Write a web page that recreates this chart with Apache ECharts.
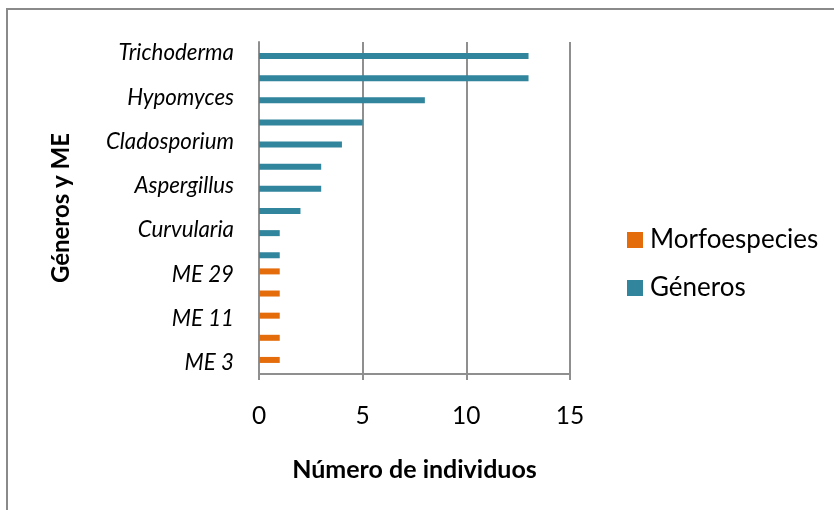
<!DOCTYPE html>
<html>
<head>
<meta charset="utf-8">
<script src="https://cdn.jsdelivr.net/npm/echarts@6/dist/echarts.min.js"></script>
<style>
  html, body { margin: 0; padding: 0; background: #fff; }
  #chart { width: 834px; height: 510px; }
</style>
</head>
<body>
<div id="chart"></div>
<script>
// Categories from bottom to top; only every other label is printed on the axis
const categories = [
  'ME 3', '', 'ME 11', '', 'ME 29', '', 'Curvularia', '', 'Aspergillus', '',
  'Cladosporium', '', 'Hypomyces', '', 'Trichoderma'
];
// Number of individuals per category, one array per series
const morfoespecies = [1, 1, 1, 1, 1, 0, 0, 0, 0, 0, 0, 0, 0, 0, 0];
const generos       = [0, 0, 0, 0, 0, 1, 1, 2, 3, 3, 4, 5, 8, 13, 13];
const seriesNames = ['Morfoespecies', 'Géneros'];
const xTicks = { min: 0, max: 15, interval: 5 };

const FONT = 'Lato';
const GRID_GRAY = '#8f8f8f';

const chart = echarts.init(document.getElementById('chart'), null, { renderer: 'canvas' });

chart.setOption({
  animation: false,
  backgroundColor: '#ffffff',
  textStyle: { fontFamily: FONT, color: '#000' },
  graphic: [{
    type: 'rect',
    shape: { x: 7, y: 9, width: 900, height: 600 },
    style: { fill: 'none', stroke: '#8a8a8a', lineWidth: 2 },
    silent: true,
    z: -1
  }],
  grid: { left: 259, right: 264, top: 42, bottom: 136, containLabel: false },
  legend: {
    orient: 'vertical',
    left: 627,
    top: 227,
    padding: 0,
    itemWidth: 16,
    itemHeight: 16,
    itemGap: 22,
    icon: 'rect',
    data: seriesNames,
    textStyle: { fontFamily: FONT, fontSize: 26, color: '#000', padding: [0, 0, 0, 2] }
  },
  xAxis: {
    type: 'value',
    min: xTicks.min,
    max: xTicks.max,
    interval: xTicks.interval,
    name: 'Número de individuos',
    nameLocation: 'middle',
    nameGap: 83,
    nameTextStyle: { fontFamily: FONT, fontWeight: 'bold', fontSize: 25, color: '#000' },
    axisLine: { show: true, lineStyle: { color: GRID_GRAY, width: 2 } },
    axisTick: { show: true, length: 6, lineStyle: { color: GRID_GRAY, width: 2 } },
    axisLabel: { fontFamily: FONT, fontSize: 24.5, color: '#000', margin: 30 },
    splitLine: { show: true, lineStyle: { color: GRID_GRAY, width: 2 } }
  },
  yAxis: {
    type: 'category',
    data: categories,
    name: 'Géneros y ME',
    nameLocation: 'middle',
    nameRotate: 90,
    nameGap: 186,
    nameTextStyle: { fontFamily: FONT, fontWeight: 'bold', fontSize: 24, color: '#000' },
    axisLine: { show: true, lineStyle: { color: GRID_GRAY, width: 2 } },
    axisTick: { show: false },
    axisLabel: { interval: 1, fontFamily: FONT, fontStyle: 'italic', fontSize: 22.3, color: '#000', margin: 25 },
    splitLine: { show: false }
  },
  series: [
    {
      name: seriesNames[0],
      type: 'bar',
      data: morfoespecies,
      barWidth: 6,
      barGap: '0%',
      itemStyle: { color: '#e46c0a' }
    },
    {
      name: seriesNames[1],
      type: 'bar',
      data: generos,
      barWidth: 6,
      barGap: '0%',
      itemStyle: { color: '#31859c' }
    }
  ]
});
</script>
</body>
</html>
